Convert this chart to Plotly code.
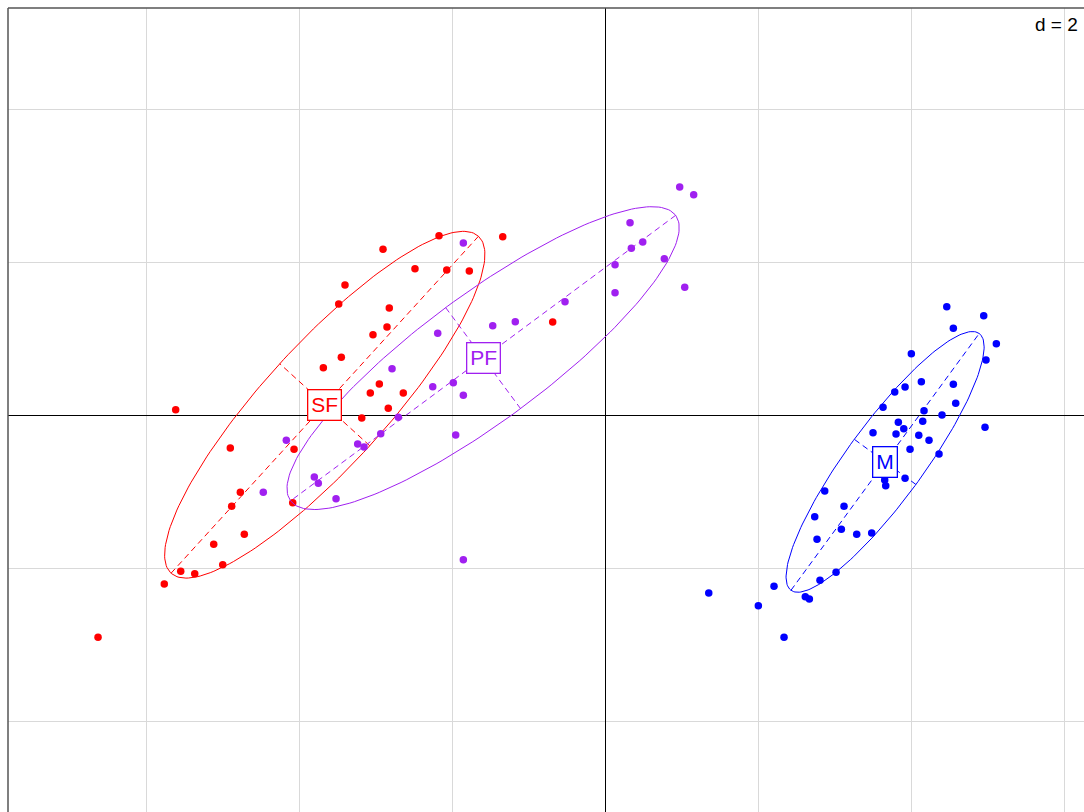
import numpy as np
import plotly.graph_objects as go

# Group scores on the first two axes
sf_x = [-2.170, -1.337, -2.902, -2.484, -2.069, -1.774, -3.399, -3.481, -2.820, -2.850,
        -3.033, -3.447, -3.682, -2.950, -3.068, -2.637, -2.833, -5.612, -3.180, -4.898,
        -4.065, -4.767, -4.880, -4.082, -4.715, -5.115, -4.997, -5.546, -5.363, -5.761,
        -6.627, -0.684]
sf_y = [2.353, 2.340, 2.175, 1.922, 1.905, 1.892, 1.708, 1.460, 1.408, 1.159,
        1.059, 0.763, 0.627, 0.414, 0.297, 0.297, 0.097, 0.078, -0.030, -0.422,
        -0.439, -1.001, -1.184, -1.137, -1.550, -1.681, -1.948, -2.034, -2.065, -2.200,
        -2.897, 1.225]

pf_x = [-1.852, -1.468, -1.173, -2.187, -2.784, -2.252, -1.983, -1.852, -2.702, -4.166,
        -3.233, -3.150, -2.932, -1.952, -3.800, -3.748, -4.467, -3.516, -1.852, 0.976,
        1.159, 0.327, 0.344, 0.493, 0.775, 0.131, 0.131, 1.042, -0.523]
pf_y = [2.258, 1.176, 1.229, 1.077, 0.614, 0.379, 0.431, 0.267, -0.021, -0.322,
        -0.370, -0.409, -0.235, -0.252, -0.801, -0.884, -1.001, -1.085, -1.882, 2.990,
        2.889, 2.523, 2.188, 2.271, 2.052, 1.974, 1.608, 1.678, 1.490]

m_x = [4.467, 4.950, 4.553, 5.115, 4.980, 4.004, 4.135, 4.553, 3.922, 3.787,
       4.584, 3.634, 4.170, 4.405, 4.153, 3.834, 3.905, 4.967, 3.503, 3.804,
       4.101, 4.235, 3.987, 4.366, 3.656, 3.669, 3.922, 2.872, 3.124, 2.741,
       3.089, 3.290, 3.486, 2.771, 3.020, 2.810, 2.209, 1.356, 2.618, 2.671,
       2.004, 2.340]
m_y = [1.425, 1.307, 1.142, 0.941, 0.728, 0.810, 0.444, 0.410, 0.375, 0.310,
       0.162, 0.110, 0.065, 0.009, -0.073, -0.086, -0.170, -0.152, -0.222, -0.239,
       -0.256, -0.322, -0.439, -0.501, -0.841, -0.915, -0.818, -0.984, -1.184, -1.320,
       -1.485, -1.550, -1.533, -1.616, -2.047, -2.152, -2.230, -2.318, -2.366, -2.396,
       -2.484, -2.897]

groups = [
    ("SF", sf_x, sf_y, "#FF0000"),
    ("PF", pf_x, pf_y, "#A020F0"),
    ("M", m_x, m_y, "#0000FF"),
]

CELLIPSE = 1.5
x_range = [-7.804, 6.261]
y_range = [-5.180, 5.329]
FONT = "Liberation Sans, Arial, sans-serif"

fig = go.Figure()
annotations = []

for name, xs, ys, col in groups:
    pts = np.column_stack([xs, ys])
    ctr = pts.mean(axis=0)
    cov = np.cov(pts.T, bias=True)
    vals, vecs = np.linalg.eigh(cov)
    order = np.argsort(vals)[::-1]
    vals, vecs = vals[order], vecs[:, order]
    a, b = CELLIPSE * np.sqrt(vals)
    u, v = vecs[:, 0], vecs[:, 1]
    t = np.linspace(0, 2 * np.pi, 200)
    ell = ctr[:, None] + a * np.outer(u, np.cos(t)) + b * np.outer(v, np.sin(t))
    fig.add_trace(go.Scatter(x=ell[0], y=ell[1], mode="lines",
                             line=dict(color=col, width=1), hoverinfo="skip",
                             showlegend=False))
    # ellipse axes (dashed)
    for vec, r in ((u, a), (v, b)):
        p1, p2 = ctr - r * vec, ctr + r * vec
        fig.add_trace(go.Scatter(x=[p1[0], p2[0]], y=[p1[1], p2[1]], mode="lines",
                                 line=dict(color=col, width=1, dash="6px,4px"),
                                 hoverinfo="skip", showlegend=False))
    fig.add_trace(go.Scatter(x=xs, y=ys, mode="markers",
                             marker=dict(color=col, size=7.5), name=name,
                             showlegend=False))
    annotations.append(dict(x=ctr[0], y=ctr[1], xref="x", yref="y", text=name,
                            showarrow=False, font=dict(color=col, size=21, family=FONT),
                            bgcolor="white", bordercolor=col, borderwidth=1.3,
                            borderpad=3))

annotations.append(dict(x=1, y=1, xref="paper", yref="paper", text="d = 2",
                        showarrow=False, xanchor="right", yanchor="top",
                        xshift=-4, yshift=-4,
                        font=dict(color="black", size=19, family=FONT)))

fig.update_layout(
    width=1084, height=812,
    margin=dict(l=8, r=0, t=8, b=0),
    paper_bgcolor="white", plot_bgcolor="white",
    annotations=annotations,
    showlegend=False,
    xaxis=dict(range=x_range, dtick=2, tick0=0, showgrid=True, gridcolor="#D9D9D9",
               gridwidth=1, zeroline=True, zerolinecolor="black", zerolinewidth=1,
               showticklabels=False, ticks="", showline=False, fixedrange=True),
    yaxis=dict(range=y_range, dtick=2, tick0=0, showgrid=True, gridcolor="#D9D9D9",
               gridwidth=1, zeroline=True, zerolinecolor="black", zerolinewidth=1,
               showticklabels=False, ticks="", showline=False, fixedrange=True),
    shapes=[
        dict(type="line", xref="paper", yref="paper", x0=0, x1=0, y0=0, y1=1,
             line=dict(color="#555555", width=1.5)),
        dict(type="line", xref="paper", yref="paper", x0=0, x1=1, y0=1, y1=1,
             line=dict(color="#555555", width=1.5)),
    ],
)

fig.write_html("out.html")
